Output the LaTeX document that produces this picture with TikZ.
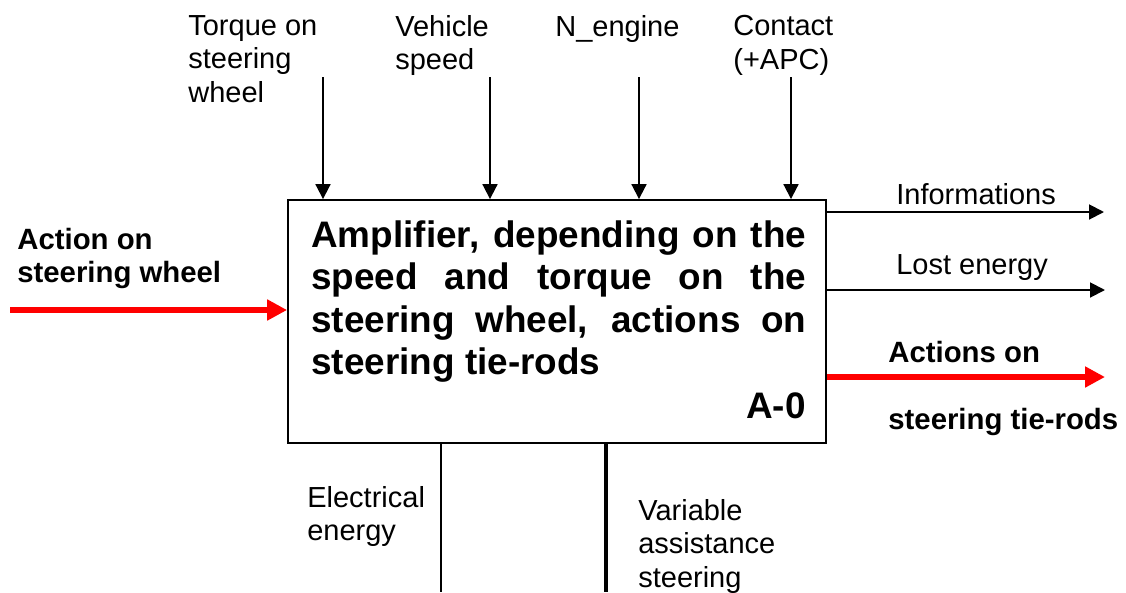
\documentclass[tikz,border=0pt]{standalone}
\usepackage{fontspec}
\setmainfont{Liberation Sans}
\usetikzlibrary{arrows.meta}
\definecolor{flowred}{HTML}{FF0000}

\begin{document}
\begin{tikzpicture}[
  x=0.02cm, y=-0.02cm,
  box/.style={draw, line width=1.1pt, minimum width=10.76cm, minimum height=4.86cm, inner sep=0pt},
  txt/.style={font=\fontsize{16.5}{19.1}\selectfont, align=left, inner sep=0pt, anchor=north west},
  boldtxt/.style={txt, font=\fontsize{16.7}{19}\selectfont\bfseries},
  maintext/.style={font=\fontsize{21}{24.2}\selectfont\bfseries, align=left, inner sep=0pt, anchor=north west},
  arrow/.style={-{Triangle[length=8.5pt, width=8.5pt]}, line width=1.1pt},
  flow/.style={-{Triangle[length=11.3pt, width=11.3pt]}, line width=3.6pt, draw=flowred},
  link/.style={line width=1.1pt},
  mech/.style={line width=2.6pt}
]
\useasboundingbox (0,0) rectangle (1126,592);
\node[box] (box) at (557,321.5) {};
\node[maintext] (func) at (311,220) {\makebox[9.9cm][s]{Amplifier, depending on the}\\
  \makebox[9.9cm][s]{speed and torque on the}\\
  \makebox[9.9cm][s]{steering wheel, actions on}\\
  steering tie-rods};
\node[maintext, anchor=north east] (code) at (806,392) {A-0};
% controls
\node[txt] (torquetxt) at (188,15) {Torque on\\steering\\wheel};
\node[txt] (speedtxt) at (395,15) {Vehicle\\speed};
\node[txt] (enginetxt) at (555,15) {N\_engine};
\node[txt] (contacttxt) at (733,15) {Contact\\(+APC)};
\coordinate (torque) at (323,77);
\coordinate (speed) at (490,77);
\coordinate (engine) at (639,77);
\coordinate (contact) at (791,77);
\draw[arrow] (torque) -- (torque |- box.north);
\draw[arrow] (speed) -- (speed |- box.north);
\draw[arrow] (engine) -- (engine |- box.north);
\draw[arrow] (contact) -- (contact |- box.north);
% input
\node[boldtxt] (wheeltxt) at (17,228) {Action on\\steering wheel};
\coordinate (wheel) at (10,310);
\draw[flow] (wheel) -- (wheel -| box.west);
% outputs
\node[txt] (infotxt) at (896,183) {Informations};
\node[txt] (losttxt) at (896,254) {Lost energy};
\node[boldtxt] (rodstxt) at (888,341) {Actions on};
\node[boldtxt] (rodstxtb) at (888,408) {steering tie-rods};
\coordinate (info) at (1104,212);
\coordinate (lost) at (1105,290);
\coordinate (rods) at (1105,377);
\draw[arrow] (info -| box.east) -- (info);
\draw[arrow] (lost -| box.east) -- (lost);
\draw[flow] (rods -| box.east) -- (rods);
% mechanisms
\node[txt] (electxt) at (307,486) {Electrical\\energy};
\node[txt] (vartxt) at (638,499) {Variable\\assistance\\steering};
\coordinate (elec) at (441,592);
\coordinate (assist) at (606,592);
\draw[link] (elec |- box.south) -- (elec);
\draw[mech] (assist |- box.south) -- (assist);
\end{tikzpicture}
\end{document}
